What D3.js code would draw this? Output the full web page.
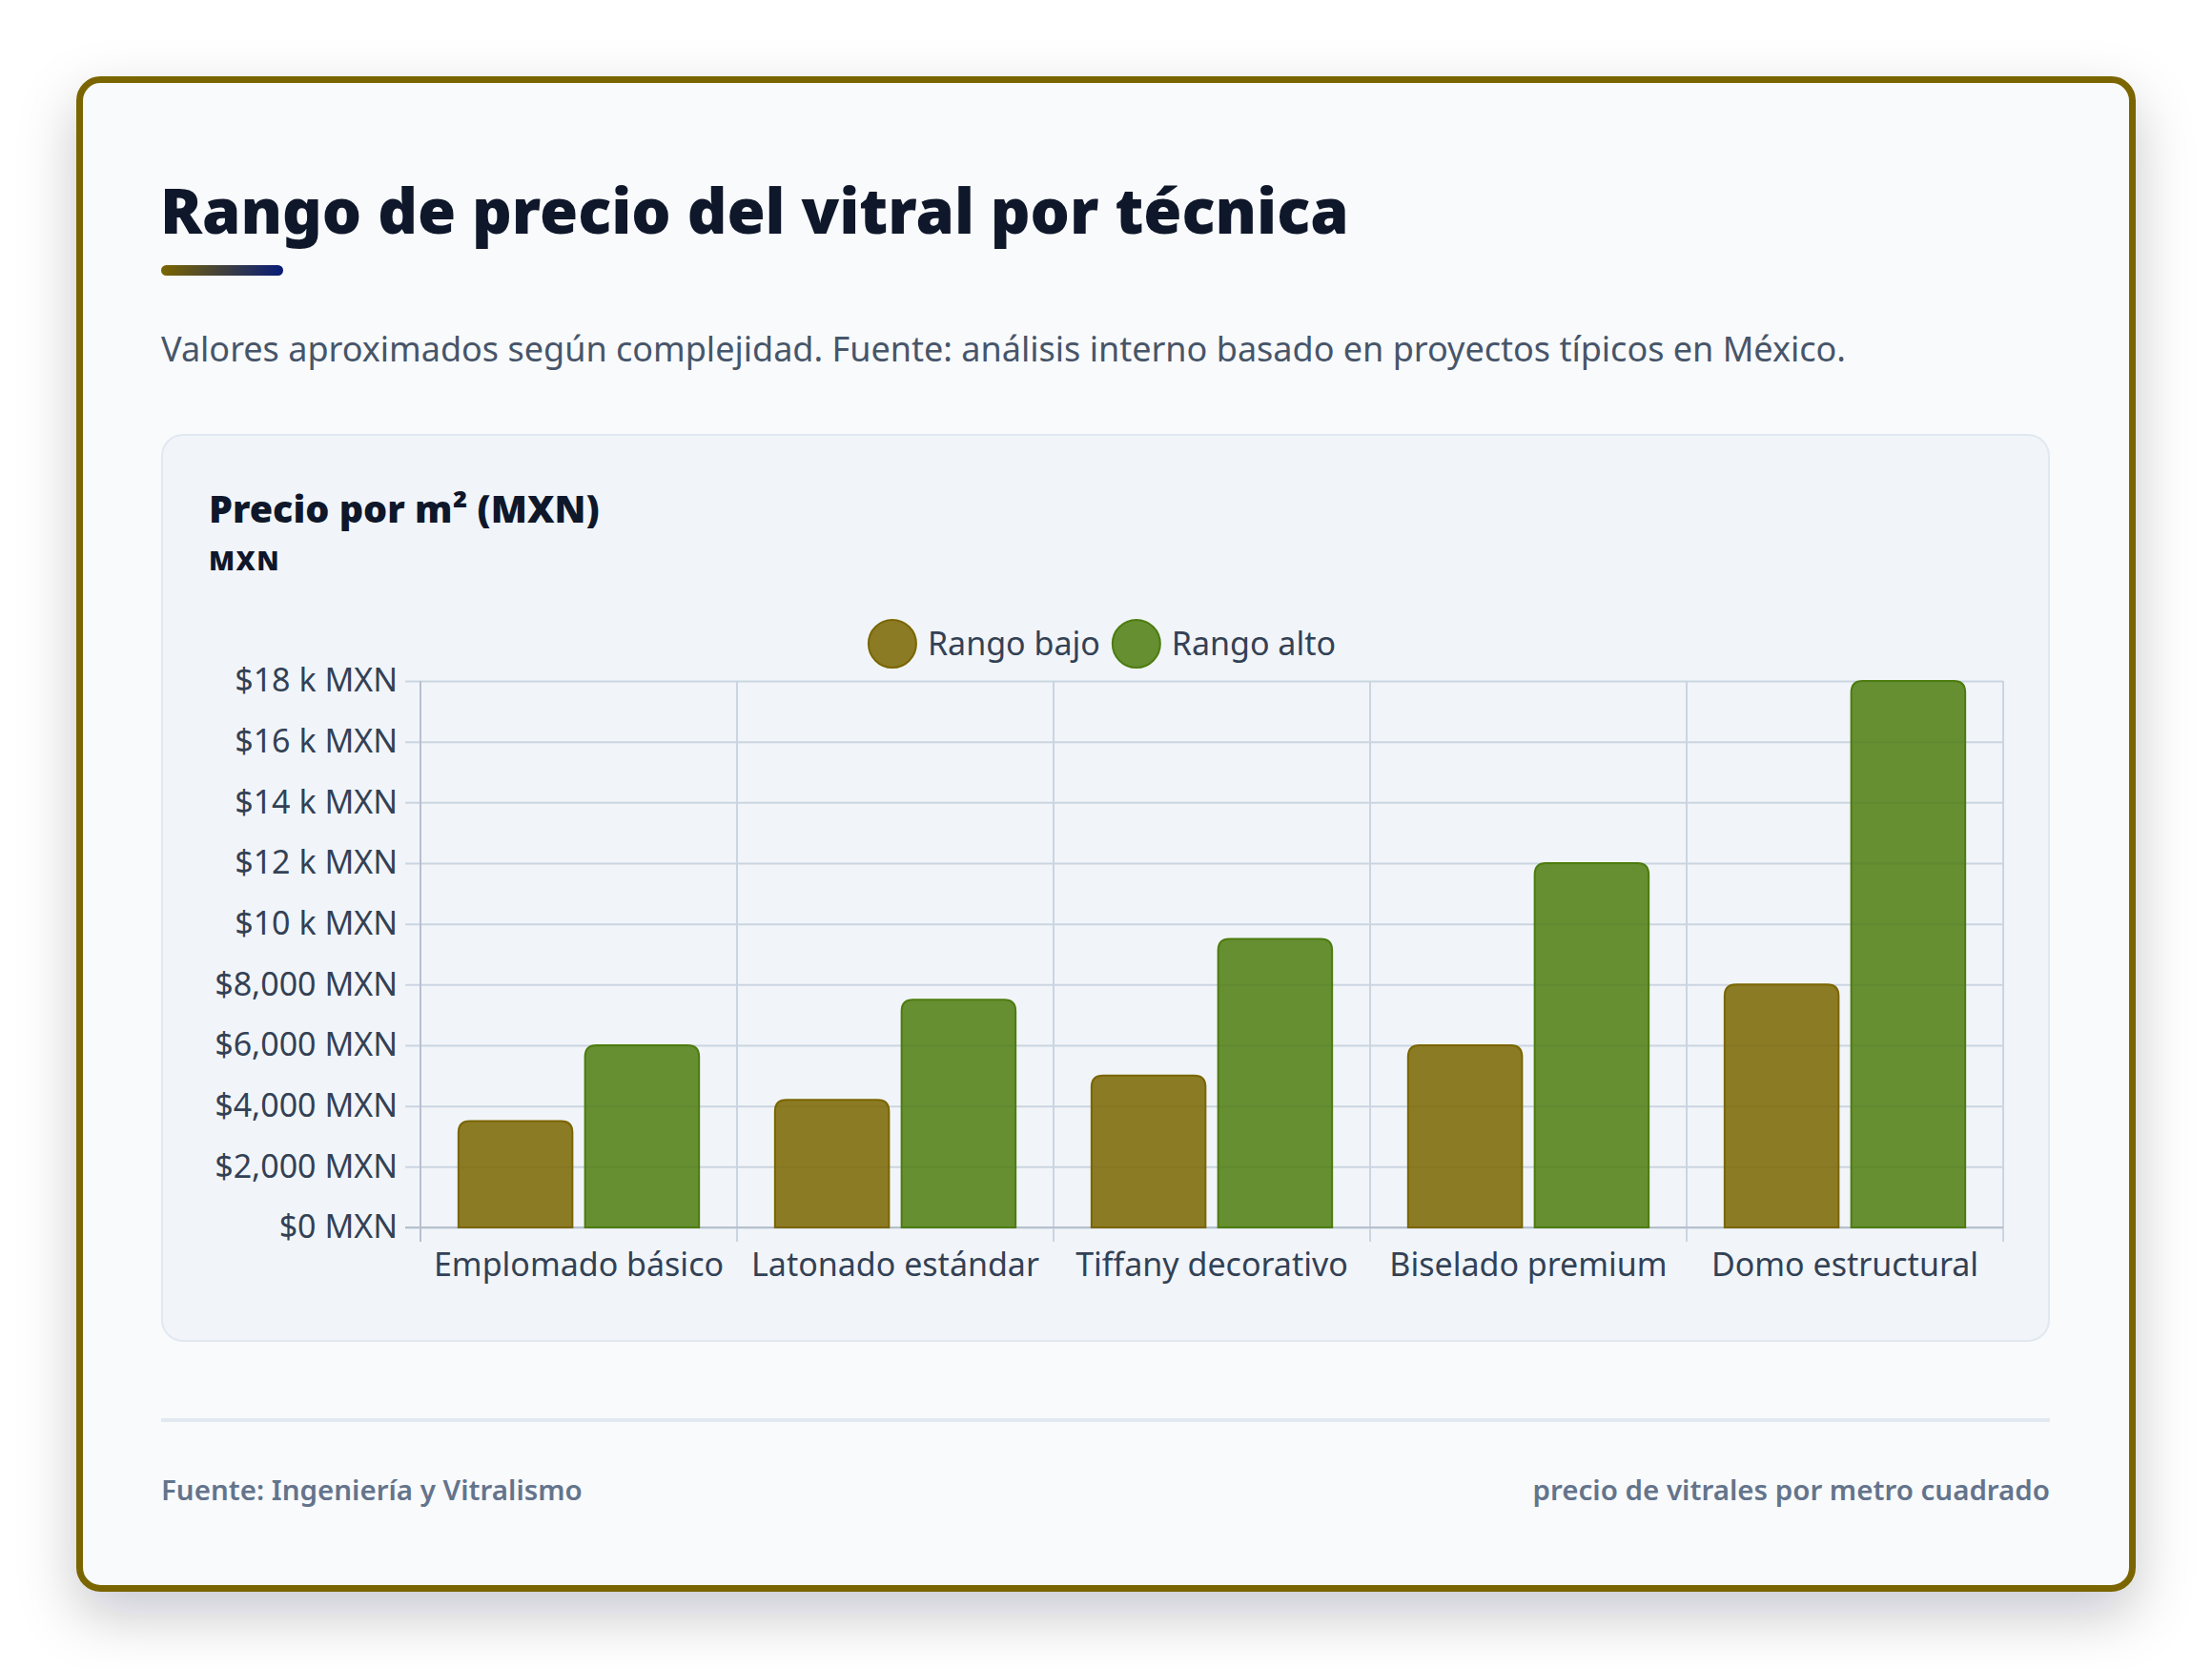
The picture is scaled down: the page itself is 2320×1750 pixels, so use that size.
<!DOCTYPE html>
<html lang="es">
<head>
<meta charset="utf-8">
<title>Rango de precio del vitral por técnica</title>
<script src="https://cdn.jsdelivr.net/npm/d3@7"></script>
<style>
  html, body { margin: 0; padding: 0; background: #ffffff; }
  svg { display: block; font-family: 'Noto Sans', Lato, sans-serif; }
</style>
</head>
<body>
<div id="chart"></div>
<script>
// data
const categories = ['Emplomado básico', 'Latonado estándar', 'Tiffany decorativo', 'Biselado premium', 'Domo estructural']
const seriesNames = ['Rango bajo', 'Rango alto']
const lowValues = [3500, 4200, 5000, 6000, 8000]
const highValues = [6000, 7500, 9500, 12000, 18000]
const yTicks = [0, 2000, 4000, 6000, 8000, 10000, 12000, 14000, 16000, 18000]
const yTickLabels = ['$0 MXN', '$2,000 MXN', '$4,000 MXN', '$6,000 MXN', '$8,000 MXN',
  '$10 k MXN', '$12 k MXN', '$14 k MXN', '$16 k MXN', '$18 k MXN']

const titleText = 'Rango de precio del vitral por técnica'
const subtitleText = 'Valores aproximados según complejidad. Fuente: análisis interno basado en proyectos típicos en México.'
const panelTitle = 'Precio por m² (MXN)'
const panelUnit = 'MXN'
const footerLeft = 'Fuente: Ingeniería y Vitralismo'
const footerRight = 'precio de vitrales por metro cuadrado'

const seriesColors = ['#7a6500', '#4d7c0f']

const W = 2320, H = 1750

const svg = d3.select('#chart').append('svg')
  .attr('width', W)
  .attr('height', H)

const defs = svg.append('defs')
const shadow = defs.append('filter').attr('id', 'cardShadow')
  .attr('x', '-10%').attr('y', '-10%').attr('width', '120%').attr('height', '125%')
shadow.append('feDropShadow')
  .attr('dx', 0).attr('dy', 24).attr('stdDeviation', 30)
  .attr('flood-color', '#0f172a').attr('flood-opacity', 0.22)

const grad = defs.append('linearGradient').attr('id', 'accent')
grad.append('stop').attr('offset', '0%').attr('stop-color', '#7a6500')
grad.append('stop').attr('offset', '100%').attr('stop-color', '#081c78')

// card
svg.append('rect')
  .attr('x', 83.5).attr('y', 83.5)
  .attr('width', 2153).attr('height', 1582)
  .attr('rx', 22)
  .attr('fill', '#f8fafc')
  .attr('stroke', '#7a6500')
  .attr('stroke-width', 7)
  .attr('filter', 'url(#cardShadow)')

// header
svg.append('text')
  .attr('x', 168).attr('y', 245)
  .attr('font-size', 65).attr('font-weight', 900)
  .attr('fill', '#0f172a')
  .text(titleText)

svg.append('rect')
  .attr('x', 169).attr('y', 278)
  .attr('width', 128).attr('height', 11).attr('rx', 5.5)
  .attr('fill', 'url(#accent)')

svg.append('text')
  .attr('x', 169).attr('y', 379)
  .attr('font-size', 36)
  .attr('fill', '#475569')
  .text(subtitleText)

// chart panel
svg.append('rect')
  .attr('x', 170).attr('y', 456)
  .attr('width', 1979).attr('height', 950)
  .attr('rx', 22)
  .attr('fill', '#f1f5f9')
  .attr('stroke', '#e2e8f0')
  .attr('stroke-width', 2)

svg.append('text')
  .attr('x', 219).attr('y', 548)
  .attr('font-size', 39.5).attr('font-weight', 900)
  .attr('fill', '#0f172a')
  .text(panelTitle)

svg.append('text')
  .attr('x', 219).attr('y', 598)
  .attr('font-size', 28).attr('font-weight', 900)
  .attr('letter-spacing', 1.5)
  .attr('fill', '#0f172a')
  .text(panelUnit)

// plot area
const plot = { left: 441, right: 2101, top: 714, bottom: 1287 }

const y = d3.scaleLinear().domain([0, 18000]).range([plot.bottom, plot.top])
const x0 = d3.scaleBand().domain(categories).range([plot.left, plot.right])
const x1 = d3.scaleBand().domain(seriesNames)
  .range([x0.bandwidth() * 0.1, x0.bandwidth() * 0.9])
  .paddingInner(0.1).paddingOuter(0.05)

// y grid + labels
const yAxis = svg.append('g')
  .attr('transform', `translate(${plot.left - 16},0)`)
  .call(d3.axisLeft(y)
    .tickValues(yTicks)
    .tickFormat((d, i) => yTickLabels[i])
    .tickSize(-(plot.right - plot.left + 16))
    .tickPadding(8))
yAxis.select('.domain').remove()
yAxis.selectAll('line').attr('stroke', '#cbd5e1').attr('stroke-width', 2)
yAxis.selectAll('text')
  .attr('font-size', 34).attr('font-family', "'Noto Sans', sans-serif")
  .attr('fill', '#334155')

// vertical grid at category edges
const edges = categories.map((c) => x0(c)).concat([plot.right])
svg.append('g').selectAll('line')
  .data(edges)
  .join('line')
  .attr('x1', (d) => d).attr('x2', (d) => d)
  .attr('y1', plot.top).attr('y2', plot.bottom + 15)
  .attr('stroke', (d, i) => (i === 0 ? '#b6c0ce' : '#cbd5e1'))
  .attr('stroke-width', 2)

// x axis line
svg.append('line')
  .attr('x1', plot.left - 16).attr('x2', plot.right)
  .attr('y1', plot.bottom).attr('y2', plot.bottom)
  .attr('stroke', '#b6c0ce').attr('stroke-width', 2)

// x labels
const xAxis = svg.append('g')
  .attr('transform', `translate(0,${plot.bottom})`)
  .call(d3.axisBottom(x0).tickSize(0).tickPadding(0))
xAxis.select('.domain').remove()
xAxis.selectAll('text')
  .attr('y', 51).attr('dy', null)
  .attr('font-size', 34).attr('font-family', "'Noto Sans', sans-serif")
  .attr('fill', '#334155')

// bars, top corners rounded
const topRounded = (bx, by, bw, bh, r) => {
  const rr = Math.min(r, bh, bw / 2)
  return `M${bx},${by + bh}V${by + rr}Q${bx},${by} ${bx + rr},${by}H${bx + bw - rr}Q${bx + bw},${by} ${bx + bw},${by + rr}V${by + bh}Z`
}

const barRows = categories.map((c, i) => ({ cat: c, vals: [lowValues[i], highValues[i]] }))

const groups = svg.append('g').selectAll('g')
  .data(barRows)
  .join('g')
  .attr('transform', (d) => `translate(${x0(d.cat)},0)`)

groups.selectAll('path')
  .data((d) => d.vals.map((v, k) => ({ name: seriesNames[k], value: v, k })))
  .join('path')
  .attr('d', (d) => topRounded(x1(d.name), y(d.value), x1.bandwidth(), y(0) - y(d.value), 12))
  .attr('fill', (d) => seriesColors[d.k])
  .attr('fill-opacity', 0.85)
  .attr('stroke', (d) => seriesColors[d.k])
  .attr('stroke-width', 2)

// legend, centred on the panel
const legend = svg.append('g').attr('transform', 'translate(0,675)')
const legendItems = legend.selectAll('g')
  .data(seriesNames)
  .join('g')
legendItems.append('circle')
  .attr('r', 25)
  .attr('fill', (d, i) => seriesColors[i])
  .attr('fill-opacity', 0.85)
  .attr('stroke', (d, i) => seriesColors[i])
  .attr('stroke-width', 2)
legendItems.append('text')
  .attr('x', 37).attr('y', 12)
  .attr('font-size', 34)
  .attr('fill', '#334155')
  .text((d) => d)
const widths = []
legendItems.each(function () {
  widths.push(this.getBBox().width)
})
let lx = 1155 - (d3.sum(widths) + 13 * (widths.length - 1)) / 2
legendItems.attr('transform', (d, i) => {
  const t = `translate(${lx + 26},0)`
  lx += widths[i] + 13
  return t
})

// footer
svg.append('rect')
  .attr('x', 169).attr('y', 1487)
  .attr('width', 1981).attr('height', 4)
  .attr('fill', '#e2e8f0')

svg.append('text')
  .attr('x', 169).attr('y', 1573)
  .attr('font-size', 29.5).attr('font-weight', 600)
  .attr('fill', '#64748b')
  .text(footerLeft)

svg.append('text')
  .attr('x', 2150).attr('y', 1573)
  .attr('text-anchor', 'end')
  .attr('font-size', 29.5).attr('font-weight', 600)
  .attr('fill', '#64748b')
  .text(footerRight)
</script>
</body>
</html>
